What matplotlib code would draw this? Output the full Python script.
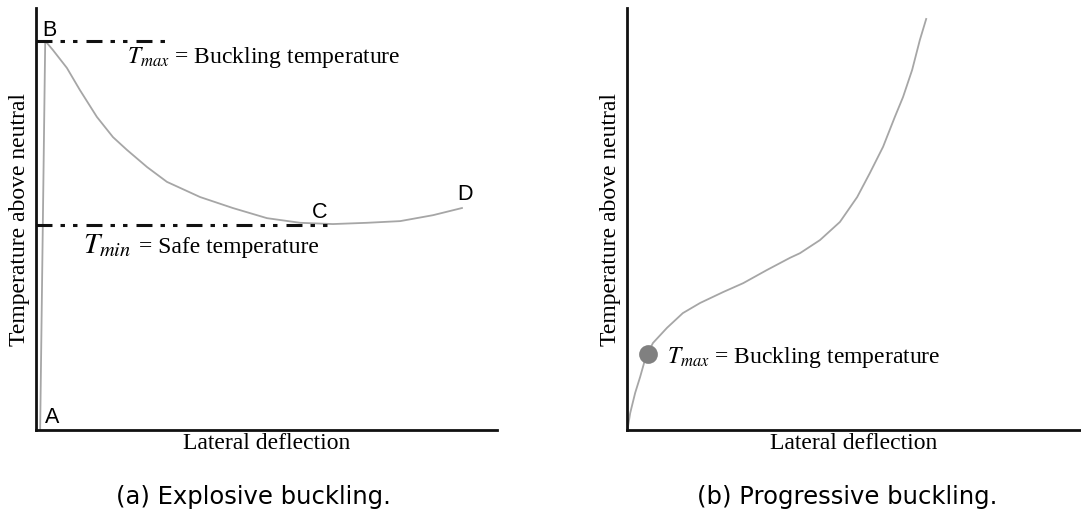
import matplotlib
matplotlib.use("Agg")
import matplotlib.pyplot as plt

plt.rcParams["mathtext.fontset"] = "stix"
plt.rcParams["lines.scale_dashes"] = False

SERIF = ["Liberation Serif", "DejaVu Serif"]
SANS = ["Liberation Sans", "DejaVu Sans"]

# (a) Explosive buckling: temperature vs lateral deflection (axes run 0..100)
explosive_x = [0.9, 2.0, 3.7, 6.7, 9.5, 13.2, 16.7, 19.7, 24.1, 28.4, 35.6, 42.7,
               50.1, 57.3, 64.4, 71.8, 79.0, 86.1, 92.4]
explosive_y = [0.0, 92.2, 90.0, 85.8, 80.6, 74.2, 69.4, 66.4, 62.3, 58.8, 55.2, 52.6,
               50.2, 49.1, 48.8, 49.1, 49.5, 50.9, 52.6]
t_max_a = 92.2
t_min_a = 48.6
t_max_line_end = 28.0
t_min_line_end = 64.4
point_labels = ["A", "B", "C", "D"]
point_label_xy = [(1.9, 1.7), (1.4, 93.4), (59.8, 50.2), (91.4, 54.5)]

# (b) Progressive buckling
progressive_x = [0.1, 0.7, 1.8, 2.9, 4.0, 5.7, 8.8, 12.3, 16.1, 21.2, 25.6, 30.8,
                 35.9, 38.1, 42.5, 46.9, 50.7, 53.5, 56.4, 59.0, 60.8, 62.8, 64.5, 65.9]
progressive_y = [0.0, 4.0, 8.8, 12.6, 16.8, 20.6, 24.2, 27.7, 30.1, 32.7, 34.8, 37.9,
                 40.8, 41.9, 45.0, 49.3, 55.2, 60.9, 67.1, 74.2, 78.9, 85.3, 92.4, 97.4]
buckling_point = (4.6, 17.9)

captions = ["(a) Explosive buckling.", "(b) Progressive buckling."]

W, H = 1081, 526
fig = plt.figure(figsize=(W / 100, H / 100), dpi=100)


def px_axes(x0, y0, x1, y1):
    return fig.add_axes([x0 / W, 1 - y1 / H, (x1 - x0) / W, (y1 - y0) / H])


curve_color = "#a6a6a6"
ink = "#111111"
dash_pattern = (0, (11.5, 5.8, 3.2, 5.8, 3.2, 6.5))
TXT = 17


def style(ax):
    ax.set_xlim(0, 100)
    ax.set_ylim(0, 100)
    for s in ("top", "right"):
        ax.spines[s].set_visible(False)
    for s in ("left", "bottom"):
        ax.spines[s].set_linewidth(2.0)
        ax.spines[s].set_color(ink)
    ax.set_xticks([])
    ax.set_yticks([])
    ax.set_xlabel("Lateral deflection", family=SERIF, fontsize=TXT, labelpad=2)
    ax.set_ylabel("Temperature above neutral", family=SERIF, fontsize=TXT, labelpad=4)


# Left panel
axa = px_axes(36, 8, 497, 430)
style(axa)
axa.plot(explosive_x, explosive_y, color=curve_color, lw=1.3, zorder=2)
axa.plot([0, t_max_line_end], [t_max_a, t_max_a], color=ink, lw=2.2,
         linestyle=dash_pattern, zorder=3, clip_on=False)
axa.plot([0, t_min_line_end], [t_min_a, t_min_a], color=ink, lw=2.2,
         linestyle=dash_pattern, zorder=3, clip_on=False)
for lab, (x, y) in zip(point_labels, point_label_xy):
    axa.text(x, y, lab, family=SANS, fontsize=15.5, ha="left", va="baseline",
             clip_on=False)
axa.text(19.7, 87.0, r"$T_{max}$ = Buckling temperature", family=SERIF, fontsize=TXT,
         ha="left", va="baseline")
# T_min label is set a little larger than the other math labels
axa.text(10.2, 41.9, r"$T_{min}$", fontsize=21, ha="left", va="baseline")
axa.text(22.4, 41.9, "= Safe temperature", family=SERIF, fontsize=TXT,
         ha="left", va="baseline")

# Right panel
axb = px_axes(627, 8, 1081, 430)
style(axb)
axb.plot(progressive_x, progressive_y, color=curve_color, lw=1.3, zorder=2)
axb.plot(*buckling_point, "o", ms=13.5, color="#808080", mec="none", zorder=3)
axb.text(8.8, 15.9, r"$T_{max}$ = Buckling temperature",
         family=SERIF, fontsize=TXT, ha="left", va="baseline")

# Sub-figure captions
fig.text(253 / W, 1 - 497 / H, captions[0], family=["DejaVu Sans"], fontsize=17.5,
         ha="center", va="center")
fig.text(847 / W, 1 - 497 / H, captions[1], family=["DejaVu Sans"], fontsize=17.5,
         ha="center", va="center")

fig.savefig("out.png", dpi=100)
